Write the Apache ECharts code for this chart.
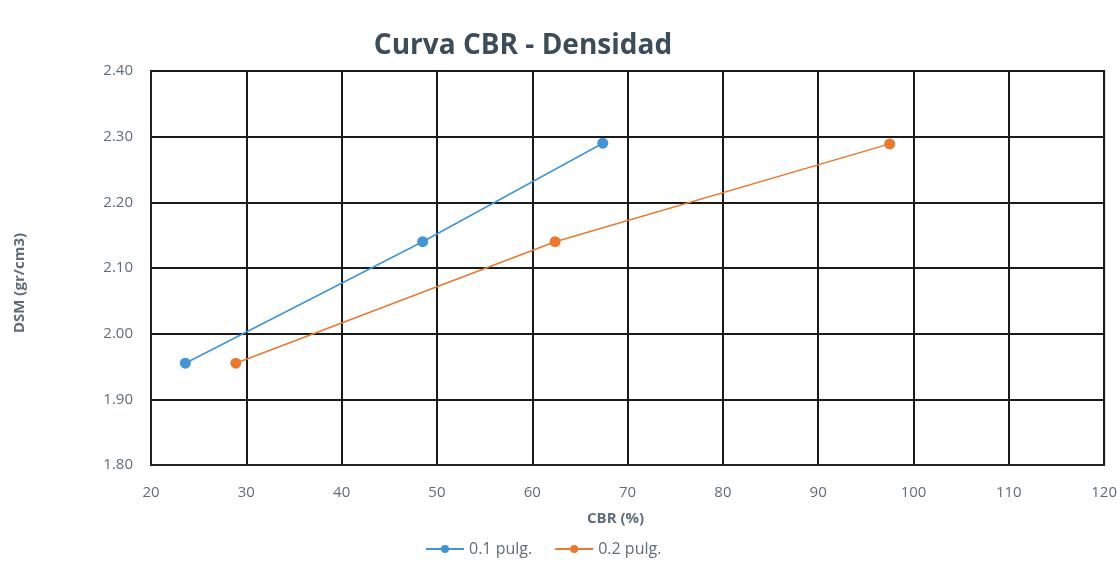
<!DOCTYPE html>
<html>
<head>
<meta charset="utf-8">
<script src="https://cdn.jsdelivr.net/npm/echarts@6/dist/echarts.min.js"></script>
<style>html,body{margin:0;padding:0;background:#fff}#c{width:1120px;height:571px}</style>
</head>
<body>
<div id="c"></div>
<script>
const seriesNames = ['0.1 pulg.', '0.2 pulg.'];
const cbr01 = [23.6, 48.5, 67.4];
const dsm01 = [1.955, 2.14, 2.29];
const cbr02 = [28.9, 62.4, 97.5];
const dsm02 = [1.955, 2.14, 2.289];
const colors = ['#4294d4', '#e8792f'];

const chart = echarts.init(document.getElementById('c'));
const font = '"Open Sans", "Liberation Sans", sans-serif';
const labelColor = '#5f6d78';
chart.setOption({
  backgroundColor: '#fff',
  animation: false,
  title: {
    text: 'Curva CBR - Densidad',
    left: 518, top: 27, textAlign: 'center',
    textStyle: {fontFamily: font, fontSize: 28, fontWeight: 'bold', color: '#3c4c58'}
  },
  grid: {left: 151, right: 7, top: 71, bottom: 106, containLabel: false,
         show: true, borderColor: '#222', borderWidth: 2},
  legend: {
    data: seriesNames, left: 420, top: 536, itemWidth: 38, itemHeight: 10, itemGap: 22,
    textStyle: {fontFamily: font, fontSize: 16, color: labelColor}
  },
  xAxis: {
    type: 'value', min: 20, max: 120, interval: 10,
    name: 'CBR (%)', nameLocation: 'middle', nameGap: 46,
    nameTextStyle: {fontFamily: font, fontSize: 15, fontWeight: 'bold', color: labelColor,
                    padding: [0, 24, 0, 0]},
    axisLine: {show: true, lineStyle: {color: '#222', width: 2}},
    axisTick: {show: false},
    axisLabel: {fontFamily: font, fontSize: 15, color: labelColor, margin: 20},
    splitLine: {show: true, lineStyle: {color: '#1a1a1a', width: 2}}
  },
  yAxis: {
    type: 'value', min: 1.8, max: 2.4, interval: 0.1,
    name: 'DSM (gr/cm3)', nameLocation: 'middle', nameGap: 124, nameRotate: 90,
    nameTextStyle: {fontFamily: font, fontSize: 15, fontWeight: 'bold', color: labelColor,
                    padding: [0, 30, 0, 0]},
    axisLine: {show: true, lineStyle: {color: '#222', width: 2}},
    axisTick: {show: false},
    axisLabel: {fontFamily: font, fontSize: 15, color: labelColor, margin: 18,
                formatter: v => v.toFixed(2)},
    splitLine: {show: true, lineStyle: {color: '#1a1a1a', width: 2}}
  },
  series: [
    {name: seriesNames[0], type: 'line', data: cbr01.map((x, i) => [x, dsm01[i]]),
     symbol: 'circle', symbolSize: 11, color: colors[0], lineStyle: {width: 1.5}},
    {name: seriesNames[1], type: 'line', data: cbr02.map((x, i) => [x, dsm02[i]]),
     symbol: 'circle', symbolSize: 11, color: colors[1], lineStyle: {width: 1.5}}
  ]
});
</script>
</body>
</html>
